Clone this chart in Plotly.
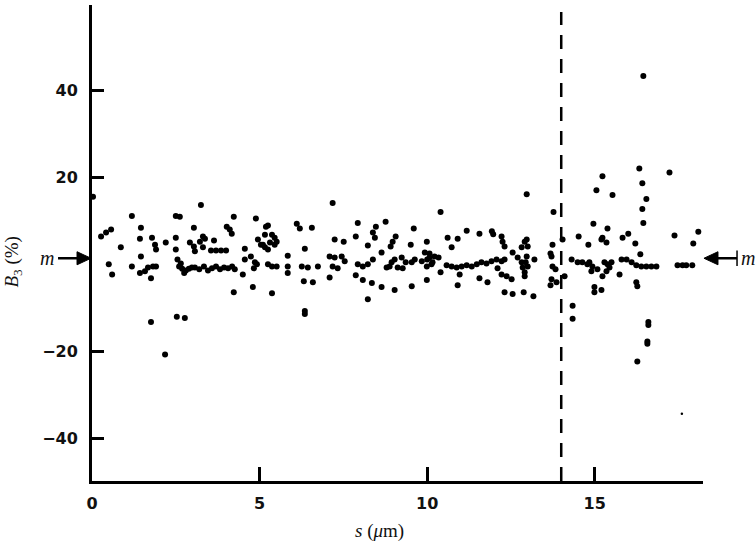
import plotly.graph_objects as go

# s (um) and B3 (%) values
s_vals = [
    0.03, 0.27, 0.42, 0.57, 0.86, 0.5, 0.6, 1.19, 1.19, 1.46, 1.43, 1.46,
    1.43, 1.58, 1.67, 1.82, 1.91, 1.76, 1.76, 1.79, 1.88, 1.91, 2.2, 2.18,
    2.5, 2.62, 2.5, 2.5, 2.6, 2.69, 2.8, 2.89, 2.98, 2.53, 2.77, 2.55, 2.65, 2.75,
    3.04, 3.25, 2.92, 3.04, 3.07, 3.22, 3.31, 3.37, 3.31, 3.64,
    3.55, 3.70, 3.85, 4.0,
    3.07, 3.2, 3.34, 3.46, 3.58, 3.7, 3.82, 3.94, 4.06, 4.18, 4.26,
    4.23, 4.02, 4.11, 4.17, 4.23, 4.5, 4.56, 4.56, 4.8, 4.89, 4.74, 4.86, 4.83,
    4.95, 5.04, 5.16, 5.19,
    7.18, 5.25, 5.16, 5.37, 5.45, 5.31, 5.1, 5.25, 5.45, 5.51, 4.92,
    5.25, 5.37, 5.51, 5.37, 6.11, 6.2, 6.56, 6.35, 5.84, 5.84, 5.84,
    6.26, 6.44, 6.74, 6.32, 6.59, 6.35, 6.35, 7.24, 7.51, 7.09, 7.24, 7.45, 7.54,
    7.18, 7.33, 7.09, 7.87, 7.93, 8.23, 8.38, 8.44, 8.47, 8.76,
    7.93, 8.08, 8.23, 8.38, 7.87, 8.08, 8.35, 8.23, 8.64, 8.64,
    8.79, 8.88, 8.94, 9.03, 8.91, 8.97, 9.06, 9.03,
    9.24, 9.36, 9.54, 9.63, 9.12, 9.27, 9.6, 9.51, 9.54, 9.99, 9.99,
    9.84, 10.0, 10.16, 9.93, 10.07,
    10.4, 12.97, 15.05, 10.07, 10.22, 10.34, 10.13, 9.99, 10.4, 10.61, 10.73,
    10.91, 11.18, 11.56, 11.93, 11.97, 12.22, 12.25, 12.31,
    10.58, 10.73, 10.88, 11.03, 11.18, 11.33, 11.48, 11.62, 11.77, 11.92, 12.07, 12.22, 12.31,
    10.97, 10.91, 11.56, 11.8, 12.1, 12.22, 12.37, 12.52, 12.31, 12.55, 12.88, 13.17,
    12.55, 12.7, 12.82, 12.85, 12.91, 12.91, 12.82, 12.91, 13.0, 12.97, 13.0, 13.2, 12.94,
    12.97, 13.77, 13.74, 13.68, 13.74, 13.83, 13.71, 13.68, 13.86, 13.71,
    14.04, 14.1, 14.34, 14.34, 14.52, 14.81, 14.96, 15.2,
    14.31, 14.49, 14.63, 14.78, 14.93, 15.08, 14.99, 14.99,
    16.33, 17.23, 15.23, 15.53, 16.42, 16.54, 16.42, 16.45, 15.38, 15.23, 15.35,
    15.83, 16.0, 16.21, 16.36, 17.38, 18.09, 17.94,
    15.29, 15.38, 15.44, 15.35, 15.23, 15.5, 15.74,
    15.8, 15.95, 16.1, 16.24, 16.39, 16.54, 16.69, 16.84,
    17.47, 17.62, 17.73, 17.91, 16.24, 16.27, 15.2, 14.84, 14.9,
    16.6, 16.6, 16.57, 16.57, 16.27, 16.45,
]
b_vals = [
    15.5, 6.4, 7.3, 8.0, 3.9, 0.0, -2.3, 11.1, -0.5, 8.4, 5.9, 1.8,
    -2.0, -1.6, -0.7, -0.5, -0.5, -3.2, -13.2, 6.1, 4.5, 3.4, 5.0, -20.7,
    11.1, 10.9, 6.1, 3.4, -0.5, -1.0, -1.4, -1.0, -0.7, -12.0, -12.3, 1.1, 0.2, -2.0,
    8.4, 13.6, 5.0, 4.1, 3.0, 5.2, 6.4, 5.9, 3.9, 5.5,
    3.2, 3.2, 3.2, 3.2,
    -0.7, -1.1, -0.5, -1.4, -0.9, -0.5, -1.1, -0.7, -0.9, -0.5, -1.1,
    10.9, 8.6, 8.0, 7.0, -6.4, -2.3, 3.6, 1.1, -5.2, 10.5, 1.8, 0.5, -0.9,
    5.7, 4.5, 3.9, 8.6,
    14.1, 8.9, 6.8, 6.8, 6.1, 5.0, 4.5, 3.4, 4.5, 5.2, 0.0,
    0.0, -0.5, -0.5, -6.6, 9.3, 8.2, 8.4, 3.6, 2.0, -0.5, -2.0,
    -0.5, -0.7, -0.5, -3.9, -4.1, -10.7, -11.4, 5.7, 5.2, 1.8, 1.6, 1.8, 0.7,
    -0.5, -0.9, -3.0, 6.4, 9.5, 4.3, 7.3, 6.1, 8.6, 9.8,
    0.0, -0.5, 0.0, 1.1, -2.5, -3.6, -4.3, -8.0, 2.7, -5.2,
    -0.7, -0.5, 0.5, 1.1, 4.1, 5.2, 6.4, -5.9,
    1.6, 0.5, 0.5, 1.1, -0.7, -0.9, 8.2, 4.5, -5.0, 5.2, -3.6,
    0.7, 1.1, 0.5, 2.7, 2.5,
    12.0, 16.1, 17.0, 1.6, 1.8, 1.6, 0.0, -0.5, -1.8, 6.1, 3.9,
    5.9, 7.7, 7.0, 7.6, 6.9, 6.4, 5.2, 4.1,
    -0.2, -0.5, -0.7, -0.5, -0.2, -0.5, 0.0, 0.5, 0.2, 0.7, 1.1, 0.7, 1.1,
    -2.3, -4.8, -3.2, -4.1, -0.9, -2.3, -2.7, -3.4, -6.4, -6.8, -6.4, -7.3,
    2.7, 1.6, 0.5, -0.7, -1.8, -2.7, 3.9, 5.2, 4.1, 1.8, -0.5, 1.1, 0.5,
    5.7, 12.0, 4.5, 2.5, -0.5, -1.1, -3.4, -4.8, -4.1, 1.8,
    5.7, -2.7, -9.5, -12.5, 6.4, 4.5, 9.3, 5.7,
    1.1, 0.5, 0.5, 0.0, -0.5, -1.1, -5.2, -6.4,
    22.0, 21.1, 20.2, 15.9, 18.6, 15.0, 12.7, 9.5, 8.2, 6.1, 5.0,
    6.1, 7.0, 4.8, 2.3, 6.6, 7.5, 4.8,
    0.5, 0.0, -0.7, -1.6, -2.7, 0.5, -2.3,
    1.1, 1.1, 0.5, -0.2, -0.5, -0.5, -0.5, -0.5,
    -0.2, -0.2, -0.2, -0.2, -4.1, -5.0, -5.9, 0.5, -1.6,
    -13.2, -13.9, -17.7, -18.2, -22.3, 43.2,
]
# faint small dot
small_s = [17.6]
small_b = [-34.3]

x_ticks = [0, 5, 10, 15]
y_ticks = [-40, -20, 20, 40]
x_range = [0, 18.23]
y_range = [-49.7, 59.5]
dashed_s = 14.0
mean_level = 1.4

fig = go.Figure()
fig.add_trace(go.Scatter(x=s_vals, y=b_vals, mode="markers",
                         marker=dict(color="black", size=6), showlegend=False,
                         cliponaxis=False))
fig.add_trace(go.Scatter(x=small_s, y=small_b, mode="markers",
                         marker=dict(color="black", size=2.5), showlegend=False))

fig.add_shape(type="line", x0=dashed_s, x1=dashed_s, y0=y_range[0], y1=57.9,
              xref="x", yref="y", line=dict(color="black", width=2.5, dash="14px,10px"))

tickfont = dict(family="DejaVu Sans, sans-serif", size=16, color="#111", weight="bold")
fig.update_xaxes(range=x_range, tickvals=x_ticks, ticks="inside", ticklen=14, tickwidth=2.5,
                 tickcolor="black", showline=True, linewidth=3, linecolor="black",
                 showgrid=False, zeroline=False, tickfont=tickfont, ticklabelstandoff=6)
fig.update_yaxes(range=y_range, tickvals=y_ticks, ticks="inside", ticklen=12, tickwidth=2.5,
                 tickcolor="black", showline=True, linewidth=3, linecolor="black",
                 showgrid=False, zeroline=False, tickfont=tickfont, ticklabelstandoff=8)

serif = dict(family="Liberation Serif, Times New Roman, serif", size=19, color="#111")
# axis labels
fig.add_annotation(text="<i>s</i> (<i>μ</i>m)", xref="paper", yref="paper", x=0.47, y=-0.105,
                   xanchor="center", yanchor="middle", showarrow=False, font=serif)
fig.add_annotation(text="<i>B</i><sub>3</sub> (%)", xref="paper", yref="paper", x=-0.13, y=0.46,
                   xanchor="center", yanchor="middle", showarrow=False, font=serif,
                   textangle=-90)

# mean markers (m arrows) drawn as shapes
arrow_line = dict(color="black", width=2.5)
# left arrow: shaft + head pointing right toward the axis
fig.add_shape(type="line", xref="paper", yref="y", x0=-0.0556, x1=-0.02,
              y0=mean_level, y1=mean_level, line=arrow_line)
fig.add_shape(type="path", xref="paper", yref="y",
              path=f"M -0.0245 {mean_level + 1.5} L -0.0016 {mean_level} L -0.0245 {mean_level - 1.5} Z",
              fillcolor="black", line=dict(color="black", width=1))
fig.add_annotation(text="<i>m</i>", xref="paper", yref="y", x=-0.073, y=mean_level,
                   xanchor="center", yanchor="middle", showarrow=False,
                   font=dict(family=serif["family"], size=20, color="#111"))
# right arrow: head pointing left toward the axis end
fig.add_shape(type="line", xref="paper", yref="y", x0=1.02, x1=1.0557,
              y0=mean_level, y1=mean_level, line=arrow_line)
fig.add_shape(type="path", xref="paper", yref="y",
              path=f"M 1.0245 {mean_level + 1.5} L 1.0016 {mean_level} L 1.0245 {mean_level - 1.5} Z",
              fillcolor="black", line=dict(color="black", width=1))
fig.add_shape(type="line", xref="paper", yref="y", x0=1.0557, x1=1.0557,
              y0=mean_level - 1.8, y1=mean_level + 1.8, line=dict(color="black", width=1.5))
fig.add_annotation(text="<i>m</i>", xref="paper", yref="y", x=1.059, y=mean_level,
                   xanchor="left", yanchor="middle", showarrow=False,
                   font=dict(family=serif["family"], size=20, color="#111"))

fig.update_layout(width=756, height=545, margin=dict(l=92, r=53, t=5, b=64),
                  plot_bgcolor="white", paper_bgcolor="white")
fig.write_html("out.html")
